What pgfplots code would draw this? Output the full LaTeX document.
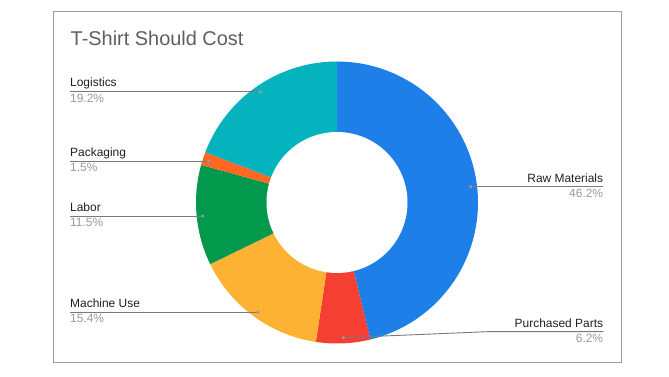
\documentclass[border=0pt]{standalone}
\usepackage{pgfplots}
\pgfplotsset{compat=1.18}
\usepackage{fontspec}
\setmainfont{Liberation Sans}
\definecolor{cRaw}{HTML}{1F7FE8}
\definecolor{cPur}{HTML}{F53F33}
\definecolor{cMac}{HTML}{FDB234}
\definecolor{cLab}{HTML}{03994D}
\definecolor{cPack}{HTML}{FF6722}
\definecolor{cLog}{HTML}{05B3BF}
\definecolor{cLine}{HTML}{7A7A7A}
\definecolor{cDot}{HTML}{999999}
\definecolor{cPct}{HTML}{9A9A9A}
\definecolor{cTitle}{HTML}{5F5F5F}
\definecolor{cBorder}{HTML}{9E9E9E}
% slice shares (percent), clockwise from 12 o'clock:
% Raw Materials 46.2, Purchased Parts 6.2, Machine Use 15.4, Labor 11.5, Packaging 1.5, Logistics 19.2
\def\CX{337}\def\CY{174.5}\def\RO{141}\def\RI{70.5}
\begin{document}
\begin{tikzpicture}
\begin{axis}[
  width=669bp, height=377bp, scale only axis,
  xmin=0, xmax=669, ymin=0, ymax=377,
  enlargelimits=false, hide axis, clip=false,
]
\addplot[draw=none] coordinates {(0,0) (669,377)};
% border
\addplot[cBorder, line width=0.9bp] coordinates {(53,14.3) (621.7,14.3) (621.7,365.3) (53,365.3) (53,14.3)};
% wedges (angles from shares: 3.6 deg per percent)
\addplot[fill=cRaw, draw=none, domain=-76.32:90, samples=80, variable=\t] ({\CX+\RO*cos(\t)},{\CY+\RO*sin(\t)}) -- (axis cs:\CX,\CY) -- cycle;
\addplot[fill=cPur, draw=none, domain=-98.64:-76.32, samples=20, variable=\t] ({\CX+\RO*cos(\t)},{\CY+\RO*sin(\t)}) -- (axis cs:\CX,\CY) -- cycle;
\addplot[fill=cMac, draw=none, domain=-154.08:-98.64, samples=40, variable=\t] ({\CX+\RO*cos(\t)},{\CY+\RO*sin(\t)}) -- (axis cs:\CX,\CY) -- cycle;
\addplot[fill=cLab, draw=none, domain=-195.48:-154.08, samples=30, variable=\t] ({\CX+\RO*cos(\t)},{\CY+\RO*sin(\t)}) -- (axis cs:\CX,\CY) -- cycle;
\addplot[fill=cPack, draw=none, domain=-200.88:-195.48, samples=8, variable=\t] ({\CX+\RO*cos(\t)},{\CY+\RO*sin(\t)}) -- (axis cs:\CX,\CY) -- cycle;
\addplot[fill=cLog, draw=none, domain=-270:-200.88, samples=50, variable=\t] ({\CX+\RO*cos(\t)},{\CY+\RO*sin(\t)}) -- (axis cs:\CX,\CY) -- cycle;
% hole
\addplot[fill=white, draw=none, domain=0:360, samples=150, variable=\t] ({\CX+\RI*cos(\t)},{\CY+\RI*sin(\t)}) -- cycle;
% leader lines
\addplot[cLine, line width=0.9bp] coordinates {(70,285.3) (260.3,285.3)};
\addplot[cLine, line width=0.9bp] coordinates {(70,215.7) (208.7,215.7)};
\addplot[cLine, line width=0.9bp] coordinates {(70,161) (202.7,161)};
\addplot[cLine, line width=0.9bp] coordinates {(70,64.7) (257.7,64.7)};
\addplot[cLine, line width=0.9bp] coordinates {(470.7,190.3) (603.3,190.3)};
\addplot[cLine, line width=0.9bp] coordinates {(343.3,39.3) (486.7,45.3) (603.3,45.3)};
\addplot[only marks, mark=*, mark size=1.4bp, cDot] coordinates {(260.3,285.3) (208.7,215.7) (202.7,161) (257.7,64.7) (470.7,190.3) (343.3,39.3)};
% title
\node[anchor=base west, inner sep=0, text=cTitle, font=\fontsize{20}{24}\selectfont] at (axis cs:70.5,331.3) {T-Shirt Should Cost};
% labels
\begin{scope}[every node/.style={inner sep=0, font=\fontsize{12}{14}\selectfont}]
\node[anchor=base west, text=black!88] at (axis cs:70,290) {Logistics};
\node[anchor=base west, text=cPct] at (axis cs:70,274.5) {19.2\%};
\node[anchor=base west, text=black!88] at (axis cs:70,220.2) {Packaging};
\node[anchor=base west, text=cPct] at (axis cs:70,205) {1.5\%};
\node[anchor=base west, text=black!88] at (axis cs:70,165.5) {Labor};
\node[anchor=base west, text=cPct] at (axis cs:70,150.5) {11.5\%};
\node[anchor=base west, text=black!88] at (axis cs:70,69.2) {Machine Use};
\node[anchor=base west, text=cPct] at (axis cs:70,54) {15.4\%};
\node[anchor=base east, text=black!88] at (axis cs:603.3,194.8) {Raw Materials};
\node[anchor=base east, text=cPct] at (axis cs:603.3,179.6) {46.2\%};
\node[anchor=base east, text=black!88] at (axis cs:603.3,49.8) {Purchased Parts};
\node[anchor=base east, text=cPct] at (axis cs:603.3,34.6) {6.2\%};
\end{scope}
\end{axis}
\end{tikzpicture}
\end{document}
